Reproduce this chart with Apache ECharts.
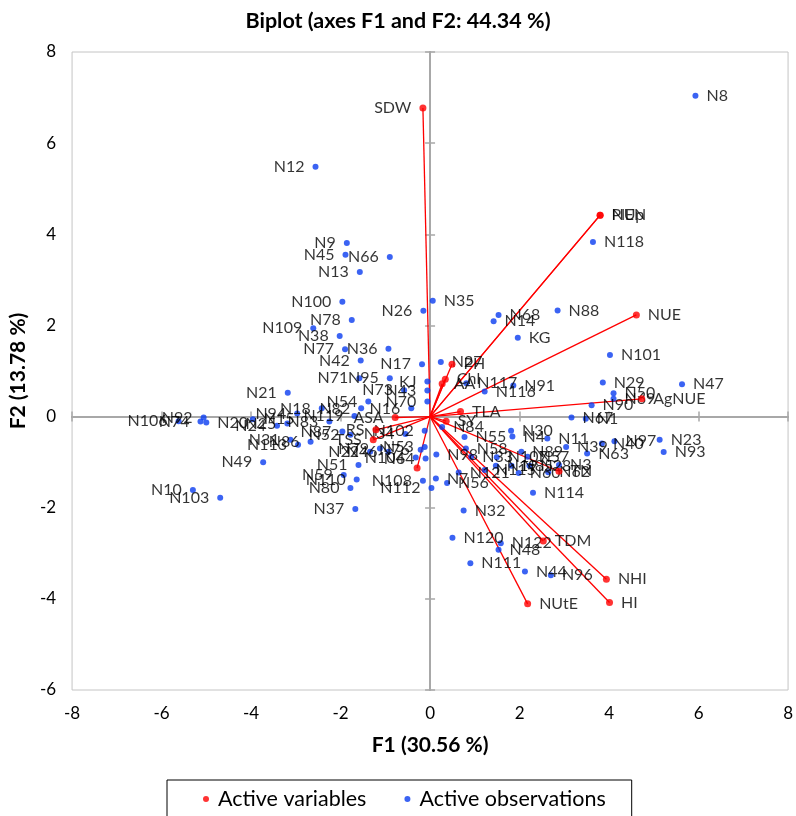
<!DOCTYPE html>
<html><head><meta charset="utf-8">
<script src="https://cdn.jsdelivr.net/npm/echarts@6/dist/echarts.min.js"></script>
<style>html,body{margin:0;padding:0;background:#fff}#c{width:796px;height:816px}</style>
</head><body><div id="c"></div>
<script>
// ---------- data ----------
const titleText = 'Biplot (axes F1 and F2: 44.34 %)';
const xAxisTitle = 'F1 (30.56 %)';
const yAxisTitle = 'F2 (13.78 %)';
const xTicks = [-8, -6, -4, -2, 0, 2, 4, 6, 8];
const yTicks = [-6, -4, -2, 0, 2, 4, 6, 8];

// active variables (vectors)
const varNames = ['SDW','NUp','PlEN','NUE','AgNUE','TLA','SY','Chl','AA','PH','TN','TDM','NHI','HI','NUtE','ASA','RS','TSS','KJ2'];
const varX =     [-0.16, 3.80, 3.80, 4.61, 4.73, 0.68, 0.36, 0.34, 0.27, 0.49, 2.88, 2.53, 3.94, 4.01, 2.18, -0.78, -1.21, -1.27, -0.29];
const varY =     [ 6.77, 4.42, 4.42, 2.23, 0.39, 0.11, -0.10, 0.82, 0.72, 1.15, -1.20, -2.73, -3.57, -4.08, -4.11, -0.02, -0.29, -0.51, -1.13];

// active observations
const obsNames = ['N8','N12','N118','N9','N45','N66','N13','N100','N35','N26','N78','N109','N38','N77','N36','N42','N17','N27',
  'N68','N14','N88','KG','N101','N29','N47','N50','N69','N90','N67','N1','N11','N39','N63','N40','N97','N23','N93',
  'N117','N116','N91','N84','N102','N55','N58','N30','N4','N89','N57','N28','N3','N62','N60','N114','N32','N120','N122',
  'N48','N111','N44','N96','N98','N7','N56','N121','N33','N107','N19','N85','N115','N108','N112','N80','N59','N110','N51',
  'N37','N22','N79','N46','N104','N34','N53','N76','N64','N87','N52','N31','N86','N113','N18','N82','N119','N83','N24','N25',
  'N15','N94','N21','N106','N92','N74','N20','N49','N10','N103','N71','N95','N73','N43','KJ','N70','N54','N16'];
const obsX = [5.93,-2.56,3.64,-1.86,-1.89,-0.90,-1.57,-1.96,0.06,-0.15,-1.75,-2.61,-2.02,-1.90,-0.93,-1.55,-0.18,0.24,
  1.53,1.42,2.85,1.96,4.02,3.86,5.63,4.10,4.10,3.61,3.16,3.48,2.62,3.04,3.51,3.84,4.12,5.13,5.22,
  0.81,1.22,1.86,0.27,-0.12,0.77,0.80,1.81,1.84,2.04,2.18,2.22,2.88,2.64,1.98,2.30,0.75,0.50,1.58,
  1.53,0.90,2.12,2.70,0.14,0.13,0.38,0.64,0.92,1.49,1.47,1.82,1.22,-0.16,0.03,-1.78,-1.93,-1.64,-1.60,
  -1.67,-1.34,-1.12,-0.93,-0.32,-0.55,-0.12,-0.21,-0.10,-1.96,-1.78,-3.12,-2.67,-2.95,-2.42,-1.54,-1.69,-2.25,-3.42,-3.19,
  -3.96,-2.97,-3.18,-5.62,-5.06,-5.13,-5.00,-3.73,-5.30,-4.69,-1.58,-0.90,-0.58,-0.06,-0.06,-0.06,-1.38,-0.42];
const obsY = [7.04,5.48,3.83,3.81,3.55,3.50,3.17,2.52,2.54,2.32,2.12,1.94,1.77,1.48,1.49,1.23,1.15,1.20,
  2.23,2.09,2.33,1.73,1.35,0.75,0.71,0.51,0.39,0.25,-0.02,-0.05,-0.48,-0.67,-0.81,-0.59,-0.54,-0.51,-0.78,
  0.73,0.55,0.68,-0.23,-0.31,-0.45,-0.70,-0.31,-0.44,-0.77,-0.88,-1.08,-1.06,-1.22,-1.24,-1.67,-2.06,-2.66,-2.78,
  -2.92,-3.22,-3.40,-3.48,-0.83,-1.36,-1.46,-1.23,-0.88,-0.89,-1.08,-1.08,-1.17,-1.41,-1.57,-1.57,-1.28,-1.38,-1.06,
  -2.03,-0.77,-0.70,-0.77,-0.90,-0.38,-0.67,-0.73,-0.92,-0.33,-0.40,-0.51,-0.55,-0.62,0.18,0.18,0.01,-0.11,-0.20,-0.15,
  -0.06,0.07,0.52,-0.10,-0.02,-0.11,-0.13,-1.00,-1.61,-1.78,0.84,0.84,0.58,0.57,0.77,0.33,0.33,0.18];

// label placement (style): names whose label sits left of the point
const obsLabelLeft = ['N12','N9','N45','N66','N13','N100','N26','N78','N109','N38','N77','N36','N42','N17','N102','N108','N112',
  'N80','N59','N110','N51','N37','N22','N79','N46','N104','N34','N53','N76','N64','N87','N52','N31','N86','N113','N18','N82',
  'N119','N83','N24','N25','N94','N21','N106','N92','N74','N49','N10','N103','N71','N95','N73','N43','KJ','N70','N54','N16'];
const varLabelLeft = ['SDW','ASA','RS','TSS','KJ2'];
const varLabelHidden = ['KJ2'];

// ---------- chart ----------
const FONT = 'Lato';
const RED = '#ff0000', BLUE = '#0a3cf0', AXC = '#a8a8a8';
const chart = echarts.init(document.getElementById('c'), null, {renderer: 'canvas'});

const labelBase = {show: true, color: '#000', fontFamily: FONT, fontSize: 16, distance: 8, formatter: p => p.name};

const varData = varNames.map((n, i) => ({
  name: n, value: [varX[i], varY[i]],
  label: {position: varLabelLeft.includes(n) ? 'left' : 'right', show: !varLabelHidden.includes(n)}
}));
const obsData = obsNames.map((n, i) => ({
  name: n, value: [obsX[i], obsY[i]],
  label: {position: obsLabelLeft.includes(n) ? 'left' : 'right'}
}));

const baseX = {type: 'value', min: xTicks[0], max: xTicks[xTicks.length - 1], interval: 2, splitLine: {show: false}};
const baseY = {type: 'value', min: yTicks[0], max: yTicks[yTicks.length - 1], interval: 2, splitLine: {show: false}};
const zeroLine = {onZero: true, lineStyle: {color: AXC, width: 2}};

chart.setOption({
  animation: false,
  backgroundColor: '#fff',
  title: {text: titleText, left: 'center', top: 5, textStyle: {fontFamily: FONT, fontSize: 21.5, fontWeight: 'bold', color: '#000'}},
  grid: {left: 72, right: 4, top: 52, bottom: 126, show: true, borderColor: '#c4c4c4', borderWidth: 1, backgroundColor: 'transparent'},
  legend: {
    data: ['Active variables', 'Active observations'], left: 167, top: 780, orient: 'horizontal',
    icon: 'circle', itemWidth: 14, itemHeight: 6, itemGap: 38,
    borderColor: '#000', borderWidth: 1, padding: [8, 26, 40, 36],
    textStyle: {fontFamily: FONT, fontSize: 21.5, color: '#000'}
  },
  xAxis: [
    Object.assign({}, baseX, {position: 'bottom', axisLine: {show: false, onZero: false}, axisTick: {show: false},
      axisLabel: {fontFamily: FONT, fontSize: 17, color: '#000', margin: 15},
      name: xAxisTitle, nameLocation: 'middle', nameGap: 45,
      nameTextStyle: {fontFamily: FONT, fontSize: 21, fontWeight: 'bold', color: '#000'}}),
    Object.assign({}, baseX, {position: 'bottom', axisLine: zeroLine, axisTick: {inside: true, length: 5, lineStyle: {color: AXC, width: 1.5}}, axisLabel: {show: false}}),
    Object.assign({}, baseX, {position: 'bottom', axisLine: zeroLine, axisTick: {inside: false, length: 5, lineStyle: {color: AXC, width: 1.5}}, axisLabel: {show: false}})
  ],
  yAxis: [
    Object.assign({}, baseY, {position: 'left', axisLine: {show: false, onZero: false}, axisTick: {show: false},
      axisLabel: {fontFamily: FONT, fontSize: 17, color: '#000', margin: 16},
      name: yAxisTitle, nameLocation: 'middle', nameGap: 42, nameRotate: 90,
      nameTextStyle: {fontFamily: FONT, fontSize: 21, fontWeight: 'bold', color: '#000'}}),
    Object.assign({}, baseY, {position: 'left', axisLine: zeroLine, axisTick: {inside: true, length: 5, lineStyle: {color: AXC, width: 1.5}}, axisLabel: {show: false}}),
    Object.assign({}, baseY, {position: 'left', axisLine: zeroLine, axisTick: {inside: false, length: 5, lineStyle: {color: AXC, width: 1.5}}, axisLabel: {show: false}})
  ],
  series: [
    {type: 'lines', coordinateSystem: 'cartesian2d', silent: true, z: 3,
      lineStyle: {color: RED, width: 1.3, opacity: 1},
      data: varNames.map((n, i) => ({coords: [[0, 0], [varX[i], varY[i]]]}))},
    {name: 'Active observations', type: 'scatter', symbolSize: 6, z: 4,
      itemStyle: {color: BLUE}, label: labelBase, labelLayout: {hideOverlap: false}, data: obsData},
    {name: 'Active variables', type: 'scatter', symbolSize: 7, z: 5,
      itemStyle: {color: RED}, label: labelBase, labelLayout: {hideOverlap: false}, data: varData}
  ]
});
</script></body></html>
